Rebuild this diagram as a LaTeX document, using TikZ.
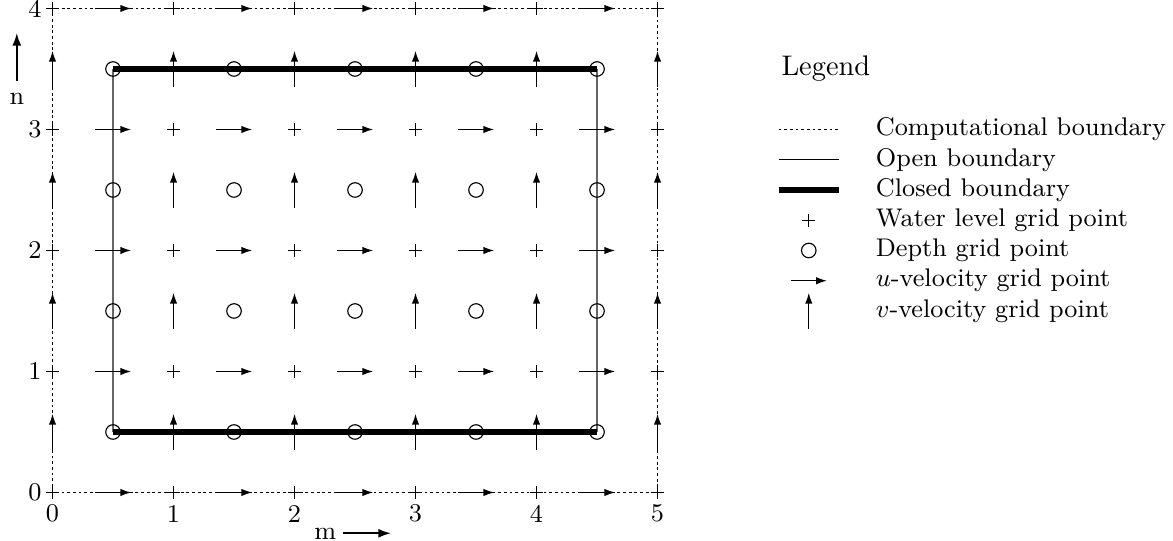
\documentclass[tikz,border=0pt]{standalone}
\usetikzlibrary{arrows.meta}
\begin{document}
\begin{tikzpicture}[x=1.5cm,y=1.5cm,
  comp/.style={line width=0.4pt, dash pattern=on 1pt off 1pt},
  openb/.style={line width=0.4pt},
  opengrid/.style={openb, draw=black!60},
  closedb/.style={line width=1.9pt},
  wl/.style={line width=0.4pt},
  depthpt/.style={line width=0.4pt},
  vel/.style={line width=0.45pt, -{Latex[length=3.8pt,width=2.6pt]}},
  axarrow/.style={line width=0.8pt, -{Latex[length=4.6pt,width=3.2pt]}},
  lbl/.style={font=\small, inner sep=0pt},
  legtext/.style={font=\small, anchor=west, inner sep=0pt}]
\useasboundingbox (-0.434,-0.393) rectangle (9.260,4.070);

% computational boundary
\coordinate (c00) at (0,0);
\coordinate (c54) at (5,4);
\draw[comp] (c00) rectangle (c54);

% open boundaries
\coordinate (obl) at (0.5,0.5);
\coordinate (otl) at (0.5,3.5);
\coordinate (obr) at (4.5,0.5);
\coordinate (otr) at (4.5,3.5);
\draw[opengrid] (obl) -- (otl);
\draw[opengrid] (obr) -- (otr);
% closed boundaries
\draw[closedb] (obl) -- (obr);
\draw[closedb] (otl) -- (otr);

% water level points
\foreach \i in {0,...,5} \foreach \j in {0,...,4} {
  \draw[wl] (\i-0.055,\j) -- (\i+0.055,\j) (\i,\j-0.055) -- (\i,\j+0.055);
}
% depth points
\foreach \i in {0.5,1.5,2.5,3.5,4.5} \foreach \j in {0.5,1.5,2.5,3.5} {
  \draw[depthpt] (\i,\j) circle[radius=0.06];
}
% u-velocity points
\foreach \i in {0.5,1.5,2.5,3.5,4.5} \foreach \j in {0,...,4} {
  \draw[vel] (\i-0.15,\j) -- (\i+0.15,\j);
}
% v-velocity points
\foreach \i in {0,...,5} \foreach \j in {0.5,1.5,2.5,3.5} {
  \draw[vel] (\i,\j-0.15) -- (\i,\j+0.15);
}

% axis labels
\foreach \i in {0,...,5} \node[lbl] (xl\i) at (\i,-0.175) {\i};
\foreach \j in {0,...,4} \node[lbl] (yl\j) at (-0.145,\j) {\j};

\node[lbl] (mlab) at (2.255,-0.345) {m};
\coordinate (ma) at (2.4,-0.337);
\coordinate (mb) at (2.8,-0.337);
\draw[axarrow] (ma) -- (mb);

\node[lbl] (nlab) at (-0.295,3.25) {n};
\coordinate (na) at (-0.295,3.4);
\coordinate (nb) at (-0.295,3.8);
\draw[axarrow] (na) -- (nb);

% legend
\node[anchor=west, inner sep=0pt] (legend) at (6.02,3.5) {Legend};

\coordinate (l1a) at (6.0,3.0);  \coordinate (l1b) at (6.5,3.0);
\draw[comp] (l1a) -- (l1b);
\node[legtext] (t1) at (6.8,3.0) {Computational boundary};

\coordinate (l2a) at (6.0,2.75); \coordinate (l2b) at (6.5,2.75);
\draw[openb] (l2a) -- (l2b);
\node[legtext] (t2) at (6.8,2.75) {Open boundary};

\coordinate (l3a) at (6.0,2.5);  \coordinate (l3b) at (6.5,2.5);
\draw[closedb] (l3a) -- (l3b);
\node[legtext] (t3) at (6.8,2.5) {Closed boundary};

\coordinate (l4) at (6.25,2.25);
\draw[wl] ([xshift=-0.0825cm]l4) -- ([xshift=0.0825cm]l4)
          ([yshift=-0.0825cm]l4) -- ([yshift=0.0825cm]l4);
\node[legtext] (t4) at (6.8,2.25) {Water level grid point};

\coordinate (l5) at (6.25,2.0);
\draw[depthpt] (l5) circle[radius=0.06];
\node[legtext] (t5) at (6.8,2.0) {Depth grid point};

\coordinate (l6a) at (6.1,1.75); \coordinate (l6b) at (6.4,1.75);
\draw[vel] (l6a) -- (l6b);
\node[legtext] (t6) at (6.8,1.75) {$u$-velocity grid point};

\coordinate (l7a) at (6.25,1.35); \coordinate (l7b) at (6.25,1.65);
\draw[vel] (l7a) -- (l7b);
\node[legtext] (t7) at (6.8,1.5) {$v$-velocity grid point};
\end{tikzpicture}
\end{document}
